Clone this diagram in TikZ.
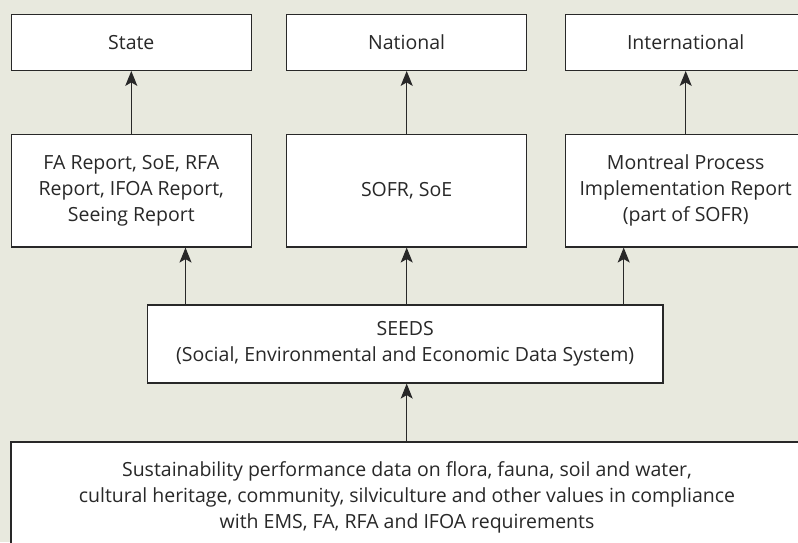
\documentclass[tikz,border=0pt]{standalone}
\usepackage{fontspec}
\setmainfont{Open Sans}
\usetikzlibrary{arrows.meta}
\definecolor{bg}{RGB}{232,233,222}
\definecolor{ink}{RGB}{40,40,40}
\begin{document}
\begin{tikzpicture}[x=1pt,y=-1pt,
  box/.style={draw=ink, line width=1.2pt, fill=white, text=ink, align=center, inner sep=0pt, font=\fontsize{19.5}{26}\selectfont},
  topbox/.style={box, minimum width=240pt, minimum height=56pt},
  midbox/.style={box, minimum width=240pt, minimum height=112.3pt},
  arr/.style={draw=ink, line width=1.2pt, -{Stealth[length=15pt,width=12pt,inset=3.5pt]}}]
\useasboundingbox (0,0) rectangle (798,542);
\clip (0,0) rectangle (798,542);
\fill[bg] (0,0) rectangle (798,542);
% top row
\node[topbox] (state) at (131.3,42.3) {State};
\node[topbox] (national) at (406.6,42.3) {National};
\node[topbox] (intl) at (685.7,42.3) {International};
% middle row
\node[midbox] (fa) at (131.3,190.8) {FA Report, SoE, RFA\\Report, IFOA Report,\\Seeing Report};
\node[midbox] (sofr) at (406.6,190.8) {SOFR, SoE};
\node[midbox] (mont) at (685.7,190.8) {Montreal Process\\Implementation Report\\(part of SOFR)};
% seeds
\node[box, minimum width=515.7pt, minimum height=78pt] (seeds) at (405.2,344) {SEEDS\\(Social, Environmental and Economic Data System)};
% bottom
\node[box, minimum width=792pt, minimum height=110pt] (data) at (407,497) {Sustainability performance data on flora, fauna, soil and water,\\cultural heritage, community, silviculture and other values in compliance\\with EMS, FA, RFA and IFOA requirements};
% arrow positions
\coordinate (c1) at (185.5,0);
\coordinate (c2) at (406.7,0);
\coordinate (c3) at (623.7,0);
% arrows
\draw[arr] (fa.north -| state) -- (state.south);
\draw[arr] (sofr.north -| c2) -- (national.south -| c2);
\draw[arr] (mont.north) -- (intl.south);
\draw[arr] (seeds.north -| c1) -- (fa.south -| c1);
\draw[arr] (seeds.north -| c2) -- (sofr.south -| c2);
\draw[arr] (seeds.north -| c3) -- (mont.south -| c3);
\draw[arr] (data.north -| c2) -- (seeds.south -| c2);
\end{tikzpicture}
\end{document}
